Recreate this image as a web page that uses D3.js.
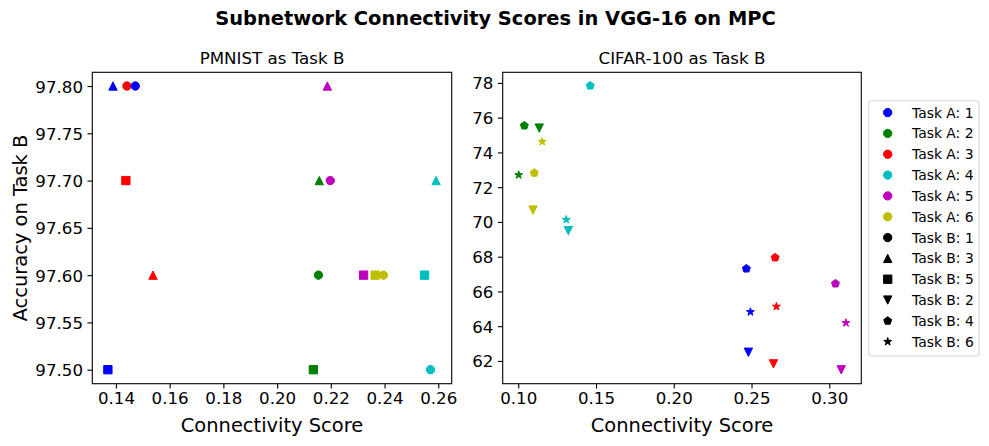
<!DOCTYPE html>
<html>
<head>
<meta charset="utf-8">
<script src="https://cdn.jsdelivr.net/npm/d3@7"></script>
<style>
  body { margin: 0; background: #fff; }
  svg { display: block; font-family: "DejaVu Sans", sans-serif; }
</style>
</head>
<body>
<svg id="chart" width="989" height="446"></svg>
<script>
// ---------------- DATA ----------------
const suptitle = "Subnetwork Connectivity Scores in VGG-16 on MPC";
const leftTitle = "PMNIST as Task B";
const rightTitle = "CIFAR-100 as Task B";
const xLabel = "Connectivity Score";
const yLabel = "Accuracy on Task B";

const taskAIds = [1, 2, 3, 4, 5, 6];
const taskAColors = ["#0000ff", "#008000", "#ff0000", "#00bfbf", "#bf00bf", "#bfbf00"];
const taskBIds = [1, 3, 5, 2, 4, 6];
const taskBMarkers = ["circle", "triangleUp", "square", "triangleDown", "pentagon", "star"];

// PMNIST panel
const pmA = [1, 3, 1, 5, 3, 2, 5, 4, 3, 2, 5, 6, 6, 4, 1, 2, 4];
const pmB = [3, 1, 1, 3, 5, 3, 1, 3, 3, 1, 5, 5, 1, 5, 5, 5, 1];
const pmX = [0.1389, 0.1441, 0.1472, 0.2187, 0.1437, 0.2157, 0.2198, 0.2592, 0.1538, 0.2154, 0.2322, 0.2365, 0.2396, 0.2549, 0.1370, 0.2135, 0.2571];
const pmY = [97.80, 97.80, 97.80, 97.80, 97.70, 97.70, 97.70, 97.70, 97.60, 97.60, 97.60, 97.60, 97.60, 97.60, 97.50, 97.50, 97.50];
const pmXTicks = [0.14, 0.16, 0.18, 0.20, 0.22, 0.24, 0.26];
const pmYTicks = [97.50, 97.55, 97.60, 97.65, 97.70, 97.75, 97.80];

// CIFAR-100 panel
const cfA = [4, 2, 2, 6, 2, 6, 6, 4, 4, 3, 1, 5, 3, 1, 5, 1, 3, 5];
const cfB = [4, 4, 2, 6, 6, 4, 2, 6, 2, 4, 4, 4, 6, 6, 6, 2, 2, 2];
const cfX = [0.1463, 0.1039, 0.1135, 0.1154, 0.1003, 0.1103, 0.1095, 0.1309, 0.1322, 0.2652, 0.2467, 0.3040, 0.2660, 0.2493, 0.3107, 0.2480, 0.2641, 0.3077];
const cfY = [77.84, 75.54, 75.40, 74.62, 72.70, 72.82, 70.68, 70.13, 69.50, 67.95, 67.31, 66.45, 65.13, 64.82, 64.19, 62.50, 61.83, 61.49];
const cfXTicks = [0.10, 0.15, 0.20, 0.25, 0.30];
const cfYTicks = [62, 64, 66, 68, 70, 72, 74, 76, 78];

// ---------------- DRAW ----------------
const svg = d3.select("#chart");
const MS = 8.33; // marker size px

function markerPath(type, s) {
  const r = s / 2;
  if (type === "circle") {
    return d3.symbol(d3.symbolCircle, Math.PI * r * r)();
  }
  if (type === "square") {
    return `M${-r},${-r}H${r}V${r}H${-r}Z`;
  }
  if (type === "triangleUp") {
    return `M0,${-r}L${r},${r}L${-r},${r}Z`;
  }
  if (type === "triangleDown") {
    return `M0,${r}L${r},${-r}L${-r},${-r}Z`;
  }
  if (type === "pentagon") {
    const pts = d3.range(5).map(i => {
      const a = -Math.PI / 2 + i * 2 * Math.PI / 5;
      return [r * Math.cos(a), r * Math.sin(a)];
    });
    return "M" + pts.map(p => p.join(",")).join("L") + "Z";
  }
  if (type === "star") {
    const ri = r * 0.381966;
    const pts = d3.range(10).map(i => {
      const a = -Math.PI / 2 + i * Math.PI / 5;
      const rr = i % 2 === 0 ? r : ri;
      return [rr * Math.cos(a), rr * Math.sin(a)];
    });
    return "M" + pts.map(p => p.join(",")).join("L") + "Z";
  }
}

const colorOf = a => taskAColors[taskAIds.indexOf(a)];
const markerOf = b => taskBMarkers[taskBIds.indexOf(b)];

function panel(opts) {
  const { left, right, top, bottom, xDomain, yDomain, xTicks, yTicks, xFmt, yFmt, A, B, X, Y, title, showYLabel } = opts;
  const x = d3.scaleLinear().domain(xDomain).range([left, right]);
  const y = d3.scaleLinear().domain(yDomain).range([bottom, top]);
  const g = svg.append("g");

  // points
  const data = X.map((v, i) => ({ a: A[i], b: B[i], x: v, y: Y[i] }));
  g.selectAll("path.pt").data(data).enter().append("path")
    .attr("class", "pt")
    .attr("transform", d => `translate(${x(d.x)},${y(d.y)})`)
    .attr("d", d => markerPath(markerOf(d.b), MS))
    .attr("fill", d => colorOf(d.a))
    .attr("stroke", d => colorOf(d.a))
    .attr("stroke-width", 1);

  // axes
  const xAxis = d3.axisBottom(x).tickValues(xTicks).tickFormat(d3.format(xFmt)).tickSize(4.86).tickPadding(3.2);
  const yAxis = d3.axisLeft(y).tickValues(yTicks).tickFormat(d3.format(yFmt)).tickSize(4.86).tickPadding(4.4);
  const gx = g.append("g").attr("transform", `translate(0,${bottom})`).call(xAxis);
  const gy = g.append("g").attr("transform", `translate(${left},0)`).call(yAxis);
  [gx, gy].forEach(ax => {
    ax.select(".domain").remove();
    ax.selectAll(".tick line").attr("stroke", "#000").attr("stroke-width", 1.1);
    ax.selectAll(".tick text").attr("fill", "#000").attr("font-size", "16.67px").attr("font-family", "DejaVu Sans");
  });
  gx.selectAll(".tick text").attr("dy", "0.71em");
  gy.selectAll(".tick text").attr("dy", "0.36em");

  // frame
  g.append("rect").attr("x", left).attr("y", top).attr("width", right - left).attr("height", bottom - top)
    .attr("fill", "none").attr("stroke", "#000").attr("stroke-width", 1.1);

  // title
  g.append("text").attr("x", (left + right) / 2).attr("y", 64.3).attr("text-anchor", "middle")
    .attr("font-size", "16.67px").attr("fill", "#000").text(title);
  // x label
  g.append("text").attr("x", (left + right) / 2).attr("y", 431.6).attr("text-anchor", "middle")
    .attr("font-size", "19.44px").attr("fill", "#000").text(xLabel);
  if (showYLabel) {
    g.append("text").attr("transform", `translate(27.2,${(top + bottom) / 2}) rotate(-90)`)
      .attr("text-anchor", "middle").attr("font-size", "19.44px").attr("fill", "#000").text(yLabel);
  }
}

panel({
  left: 92.3, right: 451.7, top: 72.3, bottom: 383.7,
  xDomain: [0.1312, 0.2650], yDomain: [97.4852, 97.8145],
  xTicks: pmXTicks, yTicks: pmYTicks, xFmt: ".2f", yFmt: ".2f",
  A: pmA, B: pmB, X: pmX, Y: pmY, title: leftTitle, showYLabel: true
});

panel({
  left: 502.7, right: 861.3, top: 72.3, bottom: 383.7,
  xDomain: [0.0900, 0.3206], yDomain: [60.69, 78.61],
  xTicks: cfXTicks, yTicks: cfYTicks, xFmt: ".2f", yFmt: "d",
  A: cfA, B: cfB, X: cfX, Y: cfY, title: rightTitle, showYLabel: false
});

// suptitle
svg.append("text").attr("x", 495.5).attr("y", 25).attr("text-anchor", "middle")
  .attr("font-size", "19.44px").attr("font-weight", "bold").attr("fill", "#000").text(suptitle);

// legend
const legendItems = taskAIds.map((a, i) => ({ label: `Task A: ${a}`, color: taskAColors[i], marker: "circle" }))
  .concat(taskBIds.map((b, i) => ({ label: `Task B: ${b}`, color: "#000", marker: taskBMarkers[i] })));
const lg = svg.append("g");
lg.append("rect").attr("x", 868.7).attr("y", 100.7).attr("width", 110.3).attr("height", 255.3)
  .attr("rx", 2.8).attr("ry", 2.8).attr("fill", "#fff").attr("fill-opacity", 0.8)
  .attr("stroke", "#d6d6d6").attr("stroke-width", 1.1);
const rowY = d3.scaleLinear().domain([0, 11]).range([112.6, 341.7]);
const rows = lg.selectAll("g.row").data(legendItems).enter().append("g")
  .attr("class", "row").attr("transform", (d, i) => `translate(0,${rowY(i)})`);
rows.append("path").attr("transform", "translate(887.7,0)")
  .attr("d", d => markerPath(d.marker, MS)).attr("fill", d => d.color).attr("stroke", d => d.color).attr("stroke-width", 1);
rows.append("text").attr("x", 912).attr("dy", "0.36em").attr("font-size", "13.89px").attr("fill", "#000").text(d => d.label);
</script>
</body>
</html>
